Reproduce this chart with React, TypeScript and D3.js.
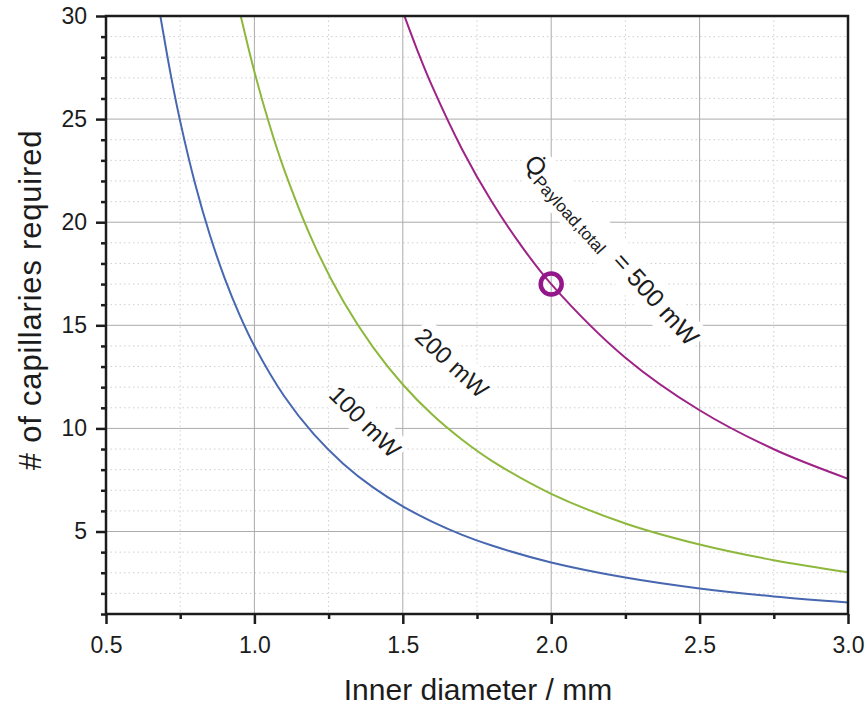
import React, { useEffect, useRef } from 'react';
import * as d3 from 'd3';

const WIDTH = 867;
const HEIGHT = 705;
const margin = { top: 16, right: 19, bottom: 91, left: 106 };

// Axis ranges and ticks
const xDomain: [number, number] = [0.5, 3.0];
const yDomain: [number, number] = [1, 30];
const xMajorTicks = [0.5, 1.0, 1.5, 2.0, 2.5, 3.0];
const xMinorTicks = [0.75, 1.25, 1.75, 2.25, 2.75];
const yMajorTicks = [5, 10, 15, 20, 25, 30];
const yMinorTicks = [1, 2, 3, 4, 6, 7, 8, 9, 11, 12, 13, 14, 16, 17, 18, 19, 21, 22, 23, 24, 26, 27, 28, 29];

// Number of capillaries vs. inner diameter, per payload heat load
const d100 = [0.683, 0.72, 0.75, 0.8, 0.85, 0.9, 0.95, 1.0, 1.1, 1.2, 1.3, 1.4, 1.5, 1.6, 1.7, 1.8, 2.0, 2.25, 2.5, 2.75, 3.0];
const n100 = [30.01, 27.01, 24.89, 21.88, 19.38, 17.28, 15.51, 14.0, 11.57, 9.72, 8.28, 7.14, 6.22, 5.47, 4.84, 4.32, 3.5, 2.77, 2.24, 1.85, 1.56];

const d200 = [0.954, 1.0, 1.05, 1.1, 1.2, 1.3, 1.4, 1.5, 1.6, 1.7, 1.8, 2.0, 2.25, 2.5, 2.75, 3.0];
const n200 = [30.0, 27.3, 24.76, 22.56, 18.96, 16.15, 13.93, 12.13, 10.66, 9.45, 8.43, 6.83, 5.39, 4.37, 3.61, 3.03];

const d500 = [1.506, 1.55, 1.6, 1.7, 1.8, 1.9, 2.0, 2.25, 2.5, 2.75, 3.0];
const n500 = [29.98, 28.3, 26.56, 23.53, 20.99, 18.84, 17.0, 13.43, 10.88, 8.99, 7.56];

// Highlighted design point on the 500 mW curve
const markerPoint = { d: 2.0, n: 17 };

const seriesColors = { s100: '#4767b0', s200: '#8db83b', s500: '#9e2386' };
const FONT = '"Liberation Sans", Arial, Helvetica, sans-serif';
const INK = '#1c1c1c';

export default function App() {
  const ref = useRef<SVGSVGElement | null>(null);

  useEffect(() => {
    document.body.style.margin = '0';
    const svg = d3.select(ref.current);
    svg.selectAll('*').remove();

    const innerW = WIDTH - margin.left - margin.right;
    const innerH = HEIGHT - margin.top - margin.bottom;
    const x = d3.scaleLinear().domain(xDomain).range([margin.left, margin.left + innerW]);
    const y = d3.scaleLinear().domain(yDomain).range([margin.top + innerH, margin.top]);

    svg.append('rect').attr('width', WIDTH).attr('height', HEIGHT).attr('fill', '#fff');

    const defs = svg.append('defs');
    defs.append('clipPath').attr('id', 'plot-clip')
      .append('rect')
      .attr('x', margin.left).attr('y', margin.top)
      .attr('width', innerW).attr('height', innerH);

    // Grid
    const grid = svg.append('g');
    grid.selectAll('.gxm').data(xMinorTicks).join('line')
      .attr('x1', d => x(d)).attr('x2', d => x(d))
      .attr('y1', margin.top).attr('y2', margin.top + innerH)
      .attr('stroke', '#cfcfcf').attr('stroke-width', 1).attr('stroke-dasharray', '1.5,3');
    grid.selectAll('.gym').data(yMinorTicks.filter(v => v > yDomain[0])).join('line')
      .attr('x1', margin.left).attr('x2', margin.left + innerW)
      .attr('y1', d => y(d)).attr('y2', d => y(d))
      .attr('stroke', '#cfcfcf').attr('stroke-width', 1).attr('stroke-dasharray', '1.5,3');
    grid.selectAll('.gxM').data(xMajorTicks.slice(1, -1)).join('line')
      .attr('x1', d => x(d)).attr('x2', d => x(d))
      .attr('y1', margin.top).attr('y2', margin.top + innerH)
      .attr('stroke', '#ababab').attr('stroke-width', 1);
    grid.selectAll('.gyM').data(yMajorTicks.slice(0, -1)).join('line')
      .attr('x1', margin.left).attr('x2', margin.left + innerW)
      .attr('y1', d => y(d)).attr('y2', d => y(d))
      .attr('stroke', '#ababab').attr('stroke-width', 1);

    // Rotated curve labels with white boxes that break the grid
    const labelLayer = svg.append('g');
    const addLabel = (
      dx: number, ny: number, angle: number,
      build: (t: d3.Selection<SVGTextElement, unknown, null, undefined>) => void
    ) => {
      const g = labelLayer.append('g')
        .attr('transform', `translate(${x(dx)},${y(ny)}) rotate(${angle})`);
      const bg = g.append('rect').attr('fill', '#fff');
      const t = g.append('text')
        .attr('text-anchor', 'middle')
        .attr('dominant-baseline', 'central')
        .attr('font-family', FONT)
        .attr('fill', INK);
      build(t as any);
      const bb = (t.node() as SVGTextElement).getBBox();
      const pad = 3;
      bg.attr('x', bb.x - pad).attr('y', bb.y - pad)
        .attr('width', bb.width + 2 * pad).attr('height', bb.height + 2 * pad);
    };

    addLabel(1.373, 10.33, 45, t => t.attr('font-size', 24).text('100 mW'));
    addLabel(1.666, 13.19, 43, t => t.attr('font-size', 24).text('200 mW'));
    addLabel(2.205, 18.66, 48, t => {
      t.attr('font-size', 25);
      t.append('tspan').text('Q\u0307');
      t.append('tspan').attr('font-size', 17).attr('dy', 8).text('Payload,total');
      t.append('tspan').attr('dy', -8).text('\u00a0 = 500 mW');
    });

    // Curves
    const line = d3.line<[number, number]>()
      .x(d => x(d[0])).y(d => y(d[1]))
      .curve(d3.curveCatmullRom.alpha(0.5));
    const curves = svg.append('g').attr('clip-path', 'url(#plot-clip)');
    const series: [number[], number[], string][] = [
      [d100, n100, seriesColors.s100],
      [d200, n200, seriesColors.s200],
      [d500, n500, seriesColors.s500],
    ];
    series.forEach(([xs, ys, color]) => {
      const pts = xs.map((v, i) => [v, ys[i]] as [number, number]);
      curves.append('path')
        .attr('d', line(pts))
        .attr('fill', 'none')
        .attr('stroke', color)
        .attr('stroke-width', 2);
    });

    // Design point marker
    svg.append('circle')
      .attr('cx', x(markerPoint.d)).attr('cy', y(markerPoint.n))
      .attr('r', 10.5)
      .attr('fill', 'none')
      .attr('stroke', '#93168a')
      .attr('stroke-width', 4.5);

    // Axes
    const styleAxis = (g: d3.Selection<SVGGElement, unknown, null, undefined>) => {
      g.select('.domain').remove();
      g.attr('font-size', null).attr('font-family', null);
      g.selectAll('.tick line').attr('stroke', INK).attr('stroke-width', 2.5);
      g.selectAll('.tick text')
        .attr('fill', INK)
        .style('font-family', FONT)
        .style('font-size', '23px');
    };

    const xAxisG = svg.append('g')
      .attr('transform', `translate(0,${margin.top + innerH})`)
      .call(d3.axisBottom(x).tickValues(xMajorTicks).tickFormat(d3.format('.1f')).tickSize(10).tickPadding(13));
    styleAxis(xAxisG);
    const xMinorG = svg.append('g')
      .attr('transform', `translate(0,${margin.top + innerH})`)
      .call(d3.axisBottom(x).tickValues(xMinorTicks).tickFormat(() => '').tickSize(5));
    styleAxis(xMinorG);

    const yAxisG = svg.append('g')
      .attr('transform', `translate(${margin.left},0)`)
      .call(d3.axisLeft(y).tickValues(yMajorTicks).tickFormat(d3.format('d')).tickSize(10).tickPadding(9));
    styleAxis(yAxisG);
    const yMinorG = svg.append('g')
      .attr('transform', `translate(${margin.left},0)`)
      .call(d3.axisLeft(y).tickValues(yMinorTicks).tickFormat(() => '').tickSize(5));
    styleAxis(yMinorG);

    // Frame
    svg.append('rect')
      .attr('x', margin.left).attr('y', margin.top)
      .attr('width', innerW).attr('height', innerH)
      .attr('fill', 'none').attr('stroke', INK).attr('stroke-width', 2.5);

    // Axis titles
    svg.append('text')
      .attr('x', 478)
      .attr('y', 700)
      .attr('text-anchor', 'middle')
      .attr('font-family', FONT).attr('font-size', 30).attr('fill', INK)
      .text('Inner diameter / mm');
    svg.append('text')
      .attr('transform', `translate(41,300) rotate(-90)`)
      .attr('text-anchor', 'middle')
      .attr('font-family', FONT).attr('font-size', 31).attr('letter-spacing', 0.8)
      .attr('fill', INK)
      .text('# of capillaries required');
  }, []);

  return <svg ref={ref} width={WIDTH} height={HEIGHT} style={{ display: 'block' }} />;
}
